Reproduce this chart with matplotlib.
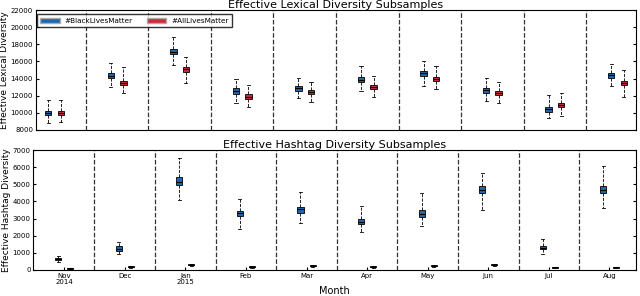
import numpy as np
import matplotlib
matplotlib.use('Agg')
import matplotlib.pyplot as plt
from matplotlib.patches import Patch

months = ['Nov\n2014', 'Dec', 'Jan\n2015', 'Feb', 'Mar', 'Apr', 'May', 'Jun', 'Jul', 'Aug']

# effective lexical diversity (box summaries per month)
lex_blm_med = [10000, 14350, 17150, 12550, 12850, 13850, 14600, 12650, 10400, 14400]
lex_blm_q1  = [9750, 14050, 16850, 12250, 12550, 13550, 14300, 12350, 10150, 14100]
lex_blm_q3  = [10250, 14650, 17450, 12850, 13150, 14150, 14900, 12950, 10650, 14700]
lex_blm_lo  = [8800, 13000, 15600, 11100, 11700, 12600, 13150, 11400, 9350, 13150]
lex_blm_hi  = [11500, 15800, 18800, 13950, 14100, 15500, 16050, 14050, 12100, 15650]

lex_alm_med = [10000, 13450, 15100, 11900, 12450, 13050, 13950, 12300, 10900, 13450]
lex_alm_q1  = [9750, 13200, 14800, 11650, 12200, 12800, 13700, 12050, 10650, 13200]
lex_alm_q3  = [10250, 13750, 15400, 12150, 12700, 13300, 14200, 12550, 11150, 13750]
lex_alm_lo  = [8900, 12300, 13450, 10650, 11300, 11800, 12800, 11100, 9650, 11900]
lex_alm_hi  = [11500, 15300, 16500, 13200, 13650, 14300, 15500, 13550, 12350, 15000]

# effective hashtag diversity
hash_blm_med = [650, 1250, 5150, 3300, 3530, 2820, 3270, 4680, 1290, 4680]
hash_blm_q1  = [570, 1130, 4950, 3130, 3350, 2680, 3100, 4480, 1200, 4480]
hash_blm_q3  = [720, 1380, 5400, 3450, 3700, 2980, 3480, 4900, 1400, 4920]
hash_blm_lo  = [490, 930, 4080, 2390, 2720, 2200, 2570, 3500, 910, 3600]
hash_blm_hi  = [840, 1620, 6560, 4130, 4530, 3750, 4480, 5680, 1810, 6060]

hash_alm_med = [90, 195, 290, 195, 250, 195, 250, 290, 155, 155]
hash_alm_q1  = [70, 170, 260, 170, 225, 170, 225, 260, 135, 135]
hash_alm_q3  = [110, 220, 320, 220, 275, 220, 275, 320, 175, 175]
hash_alm_lo  = [50, 140, 230, 140, 195, 140, 195, 230, 110, 110]
hash_alm_hi  = [130, 250, 350, 250, 305, 250, 305, 350, 200, 200]

blue = '#2166ac'
red = '#cb2c3a'


def stats(med, q1, q3, lo, hi):
    return [{'med': m, 'q1': a, 'q3': b, 'whislo': l, 'whishi': h, 'fliers': []}
            for m, a, b, l, h in zip(med, q1, q3, lo, hi)]


def draw(ax, s_blm, s_alm):
    x = np.arange(len(months))
    for s, off, col in [(s_blm, -0.1, blue), (s_alm, 0.1, red)]:
        ax.bxp(s, positions=x + off, widths=0.1, patch_artist=True,
               showfliers=False, manage_ticks=False,
               boxprops=dict(facecolor=col, edgecolor='k', linewidth=0.6),
               whiskerprops=dict(color='k', linestyle='--', linewidth=0.6),
               capprops=dict(color='k', linewidth=0.6),
               medianprops=dict(color='k', linewidth=0.8))
    for i in range(len(months) - 1):
        ax.axvline(i + 0.5, color='#333333', linestyle='--', linewidth=0.9)
    ax.tick_params(direction='in', labelsize=5, length=2, right=True, pad=2)


fig = plt.figure(figsize=(6.4, 2.96), dpi=100)
ax1 = fig.add_axes([0.056, 0.561, 0.938, 0.405])
ax2 = fig.add_axes([0.052, 0.088, 0.942, 0.405])

draw(ax1, stats(lex_blm_med, lex_blm_q1, lex_blm_q3, lex_blm_lo, lex_blm_hi),
     stats(lex_alm_med, lex_alm_q1, lex_alm_q3, lex_alm_lo, lex_alm_hi))
ax1.set_xlim(-0.3, 9.3)
ax1.set_ylim(8000, 22000)
ax1.set_yticks(np.arange(8000, 22001, 2000))
ax1.set_xticks([])
ax1.set_title('Effective Lexical Diversity Subsamples', fontsize=8, pad=1)
ax1.set_ylabel('Effective Lexical Diversity', fontsize=6.5, labelpad=1)
ax1.legend(handles=[Patch(facecolor=blue, edgecolor='#aaaaaa', label='#BlackLivesMatter'),
                    Patch(facecolor=red, edgecolor='#aaaaaa', label='#AllLivesMatter')],
           loc='upper left', ncol=2, fontsize=5.2, frameon=True, fancybox=False,
           edgecolor='k', handlelength=2.7, handleheight=0.8, columnspacing=1.9,
           handletextpad=0.7, borderpad=0.45, borderaxespad=0,
           bbox_to_anchor=(0.002, 0.965))

draw(ax2, stats(hash_blm_med, hash_blm_q1, hash_blm_q3, hash_blm_lo, hash_blm_hi),
     stats(hash_alm_med, hash_alm_q1, hash_alm_q3, hash_alm_lo, hash_alm_hi))
ax2.set_xlim(-0.51, 9.44)
ax2.set_ylim(0, 7000)
ax2.set_yticks(np.arange(0, 7001, 1000))
ax2.set_xticks(np.arange(len(months)))
ax2.set_xticklabels(months, linespacing=1.0)
ax2.set_title('Effective Hashtag Diversity Subsamples', fontsize=8, pad=1)
ax2.set_ylabel('Effective Hashtag Diversity', fontsize=6.5, labelpad=1)
ax2.set_xlabel('Month', fontsize=7, labelpad=1)

plt.savefig('out.png', dpi=100)
